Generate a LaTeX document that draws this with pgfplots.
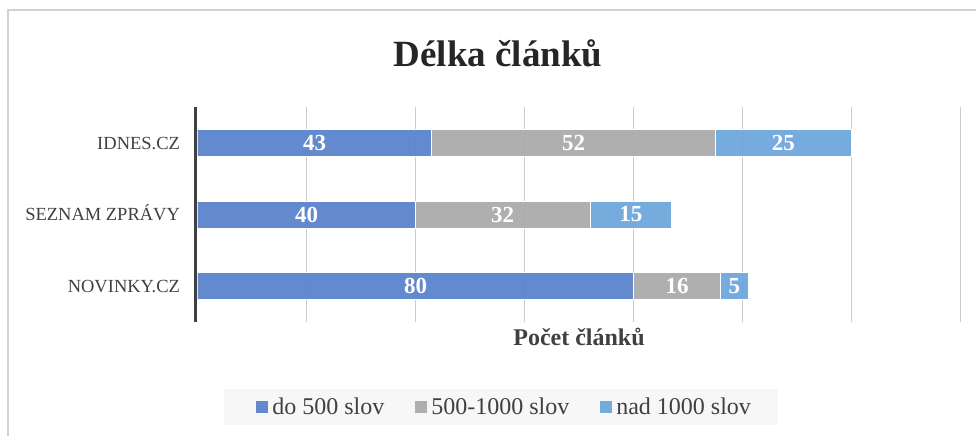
\documentclass[border=0pt]{standalone}
\usepackage{pgfplots}
\pgfplotsset{compat=1.18}
\usepackage{fontspec}
\setmainfont{Liberation Serif}
\definecolor{cBlue}{RGB}{91,131,204}
\definecolor{cGray}{RGB}{171,171,171}
\definecolor{cLight}{RGB}{111,166,220}
\definecolor{txt}{RGB}{64,64,64}
\definecolor{ttl}{RGB}{38,38,38}
\definecolor{gridc}{RGB}{205,205,205}
\definecolor{framec}{RGB}{210,210,210}
\definecolor{legbg}{RGB}{247,247,247}
\pgfplotstableread{
y a b c
0 80 16 5
1 40 32 15
2 43 52 25
}\datatab
\pgfplotstableread{
x y label
40 0 80
88 0 16
98.5 0 5
20 1 40
56 1 32
79.5 1 15
21.5 2 43
69 2 52
107.5 2 25
}\labtab
\begin{document}
\begin{tikzpicture}
\begin{axis}[
  at={(0,0)}, anchor=south west,
  scale only axis, width=763bp, height=215bp,
  xbar stacked, bar width=27bp,
  xmin=0, xmax=140, ymin=-0.5, ymax=2.5,
  axis line style={draw=none},
  xtick={20,40,...,140}, xticklabels={},
  extra x ticks={0}, extra x tick labels={},
  extra x tick style={grid style={draw=txt, line width=3bp, xshift=-1.5bp}},
  xmajorgrids, grid style={draw=gridc, line width=1.4bp},
  major tick length=0pt,
  ytick={0,1,2}, yticklabels={NOVINKY.CZ,SEZNAM ZPRÁVY,IDNES.CZ},
  yticklabel style={font=\fontsize{18.5bp}{20bp}\selectfont, text=txt, xshift=-14bp, text height=12.7bp, text depth=0pt},
  title={Délka článků},
  title style={at={(0.394,1)}, anchor=base, yshift=35bp, font=\bfseries\fontsize{37bp}{40bp}\selectfont, text=ttl},
  xlabel={Počet článků},
  xlabel style={at={(0.5,0)}, anchor=base, yshift=-23bp, font=\bfseries\fontsize{24bp}{26bp}\selectfont, text=txt},
  legend style={at={(0.394,-0.395)}, anchor=center, xshift=3bp, legend columns=3, fill=legbg, draw=none,
    font=\fontsize{24bp}{26bp}\selectfont, text=txt,
    /tikz/every even column/.append style={column sep=22bp},
    inner xsep=25bp, inner ysep=7bp},
  legend image code/.code={\fill[#1, draw=none] (0bp,-5.8bp) rectangle (11.6bp,5.8bp); \path[draw=none, fill=none] (-7bp,0bp) rectangle (14bp,0bp);},
]
\addplot[fill=cBlue, draw=white, line width=0.8bp, fill opacity=0.95] table[x=a, y=y] {\datatab};
\addlegendentry{do 500 slov}
\addplot[fill=cGray, draw=white, line width=0.8bp, fill opacity=0.95] table[x=b, y=y] {\datatab};
\addlegendentry{500-1000 slov}
\addplot[fill=cLight, draw=white, line width=0.8bp, fill opacity=0.95] table[x=c, y=y] {\datatab};
\addlegendentry{nad 1000 slov}
\end{axis}
\begin{axis}[
  at={(0,0)}, anchor=south west,
  scale only axis, width=763bp, height=215bp,
  xmin=0, xmax=140, ymin=-0.5, ymax=2.5, hide axis]
\addplot[only marks, mark=none, point meta=explicit symbolic,
  nodes near coords, nodes near coords align=center,
  every node near coord/.append style={anchor=center, text=white, font=\bfseries\fontsize{23bp}{24bp}\selectfont}]
  table[x=x, y=y, meta=label] {\labtab};
\end{axis}
\draw[framec, line width=1.2bp] (-189.5bp,-200bp) -- (-189.5bp,312bp) -- (900bp,312bp);
\pgfresetboundingbox
\path[use as bounding box] (-197.5bp,-114bp) rectangle (778.5bp,322bp);
\end{tikzpicture}
\end{document}
